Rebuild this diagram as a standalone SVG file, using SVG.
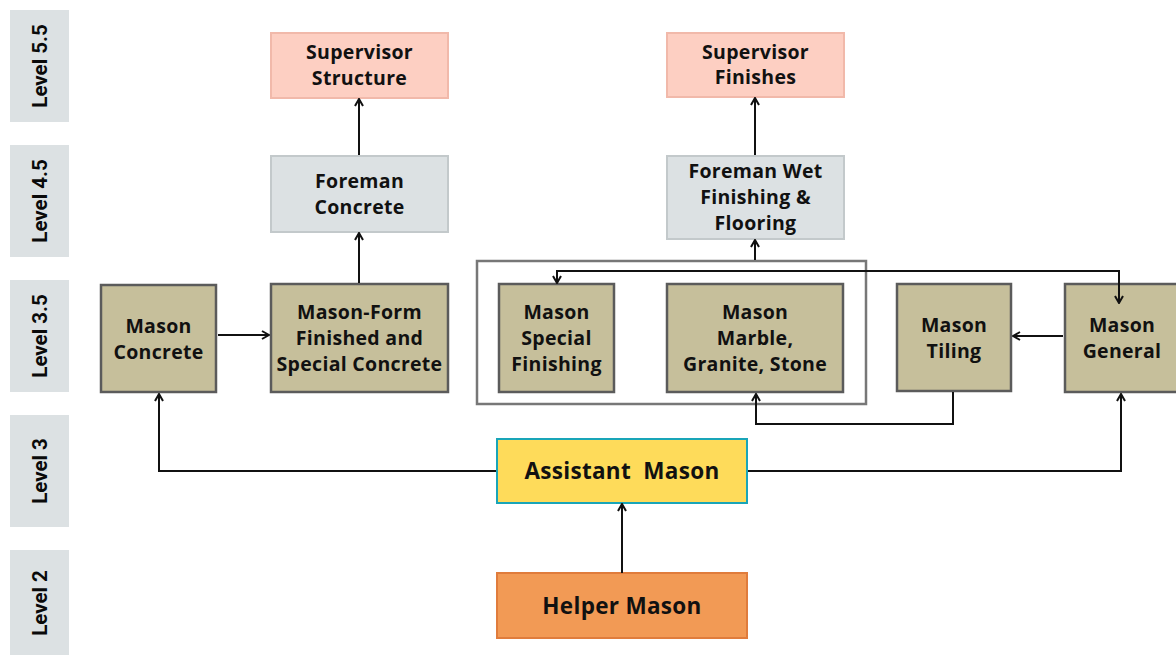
<svg xmlns="http://www.w3.org/2000/svg" width="1176" height="655" viewBox="0 0 1176 655">
<style>
.lvl{fill:#dce1e3}
.lt{font-family:Roboto,"Liberation Sans",sans-serif;font-weight:bold;font-size:20.5px;fill:#0a0a0a;text-anchor:middle}
.t{font-family:"Open Sans","Liberation Sans",sans-serif;font-weight:bold;font-size:19.5px;letter-spacing:0.3px;fill:#111;text-anchor:middle}
.big{font-size:22.5px}
.sup{fill:#fdcfc2;stroke:#f1b9aa;stroke-width:2}
.fore{fill:#dce1e3;stroke:#c3c9cb;stroke-width:2}
.mas{fill:#c6bf9b;stroke:#5b5b5b;stroke-width:2.5}
.c{fill:none;stroke:#111;stroke-width:2}
</style>
<defs>
<marker id="ah" viewBox="0 0 10 10" refX="9" refY="5" markerWidth="10" markerHeight="10" markerUnits="userSpaceOnUse" orient="auto-start-reverse">
<path d="M2,1 L9,5 L2,9" fill="none" stroke="#111" stroke-width="2"/>
</marker>
</defs>
<rect width="1176" height="655" fill="#fff"/>
<g id="levels">
<rect class="lvl" x="10" y="10" width="59" height="112"/>
<text class="lt" transform="translate(47,66) rotate(-90)">Level 5.5</text>
<rect class="lvl" x="10" y="145" width="59" height="112"/>
<text class="lt" transform="translate(47,201) rotate(-90)">Level 4.5</text>
<rect class="lvl" x="10" y="280" width="59" height="112"/>
<text class="lt" transform="translate(47,336) rotate(-90)">Level 3.5</text>
<rect class="lvl" x="10" y="415" width="59" height="112"/>
<text class="lt" transform="translate(47,471) rotate(-90)">Level 3</text>
<rect class="lvl" x="10" y="550" width="59" height="112"/>
<text class="lt" transform="translate(47,603) rotate(-90)">Level 2</text>
</g>
<g id="group-finishing">
<rect x="477" y="261" width="389" height="143" fill="none" stroke="#777" stroke-width="2.5"/>
</g>
<g id="supervisor-structure">
<rect class="sup" x="271" y="33" width="177" height="65"/>
<text class="t"><tspan x="359.5" y="59">Supervisor</tspan><tspan x="359.5" y="85">Structure</tspan></text>
</g>
<g id="supervisor-finishes">
<rect class="sup" x="667" y="33" width="177" height="64"/>
<text class="t"><tspan x="755.5" y="59">Supervisor</tspan><tspan x="755.5" y="84">Finishes</tspan></text>
</g>
<g id="foreman-concrete">
<rect class="fore" x="271" y="156" width="177" height="76"/>
<text class="t"><tspan x="359.5" y="188">Foreman</tspan><tspan x="359.5" y="214">Concrete</tspan></text>
</g>
<g id="foreman-wet">
<rect class="fore" x="667" y="156" width="177" height="83"/>
<text class="t"><tspan x="755.5" y="178">Foreman Wet</tspan><tspan x="755.5" y="204">Finishing &amp;</tspan><tspan x="755.5" y="230">Flooring</tspan></text>
</g>
<g id="mason-concrete">
<rect class="mas" x="101" y="285" width="115" height="107"/>
<text class="t"><tspan x="158.5" y="333">Mason</tspan><tspan x="158.5" y="359">Concrete</tspan></text>
</g>
<g id="mason-form">
<rect class="mas" x="271" y="284" width="177" height="108"/>
<text class="t"><tspan x="359.5" y="319">Mason-Form</tspan><tspan x="359.5" y="345">Finished and</tspan><tspan x="359.5" y="371">Special Concrete</tspan></text>
</g>
<g id="mason-special">
<rect class="mas" x="499" y="284" width="115" height="108"/>
<text class="t"><tspan x="556.5" y="319">Mason</tspan><tspan x="556.5" y="345">Special</tspan><tspan x="556.5" y="371">Finishing</tspan></text>
</g>
<g id="mason-marble">
<rect class="mas" x="667" y="284" width="176" height="108"/>
<text class="t"><tspan x="755" y="319">Mason</tspan><tspan x="755" y="345">Marble,</tspan><tspan x="755" y="371">Granite, Stone</tspan></text>
</g>
<g id="mason-tiling">
<rect class="mas" x="897" y="284" width="114" height="107"/>
<text class="t"><tspan x="954" y="332">Mason</tspan><tspan x="954" y="358">Tiling</tspan></text>
</g>
<g id="mason-general">
<rect class="mas" x="1065" y="284" width="115" height="108"/>
<text class="t"><tspan x="1122" y="332">Mason</tspan><tspan x="1122" y="358">General</tspan></text>
</g>
<g id="assistant-mason">
<rect x="497" y="439" width="250" height="64" fill="#fedb5a" stroke="#19a5b8" stroke-width="2"/>
<text class="t big" x="622" y="479" xml:space="preserve">Assistant  Mason</text>
</g>
<g id="helper-mason">
<rect x="497" y="573" width="250" height="65" fill="#f29a55" stroke="#e07c3c" stroke-width="2"/>
<text class="t big" x="622" y="614">Helper Mason</text>
</g>
<g id="connectors">
<line class="c" x1="359" y1="155" x2="359" y2="99" marker-end="url(#ah)"/>
<line class="c" x1="359" y1="283" x2="359" y2="233" marker-end="url(#ah)"/>
<line class="c" x1="755" y1="155" x2="755" y2="98" marker-end="url(#ah)"/>
<line class="c" x1="755" y1="260" x2="755" y2="240" marker-end="url(#ah)"/>
<line class="c" x1="218" y1="335" x2="269" y2="335" marker-end="url(#ah)"/>
<line class="c" x1="1063" y1="336" x2="1013" y2="336" marker-end="url(#ah)"/>
<polyline class="c" points="557,283 557,271 1119,271 1119,303" marker-start="url(#ah)" marker-end="url(#ah)"/>
<polyline class="c" points="953,392 953,424 756,424 756,394" marker-end="url(#ah)"/>
<polyline class="c" points="496,471 159,471 159,394" marker-end="url(#ah)"/>
<polyline class="c" points="748,471 1121,471 1121,394" marker-end="url(#ah)"/>
<line class="c" x1="622" y1="573" x2="622" y2="504" marker-end="url(#ah)"/>
</g>
</svg>
